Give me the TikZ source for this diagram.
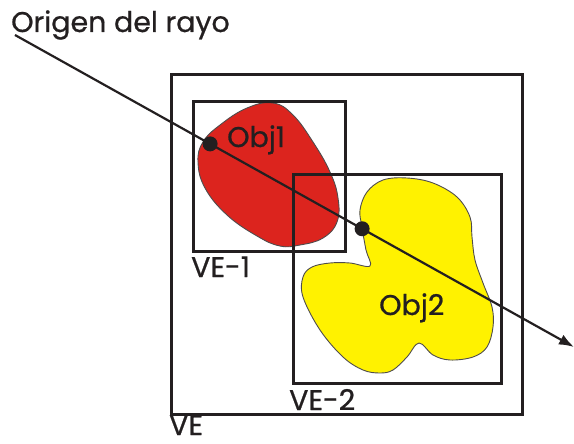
\documentclass[tikz,border=0pt]{standalone}
\usepackage{fontspec}
\setmainfont{Poppins}
\newfontfamily\lblfont{Poppins}[FakeBold=0.7]
\usetikzlibrary{calc,arrows.meta}
\definecolor{objred}{RGB}{220,36,30}
\definecolor{objyellow}{RGB}{255,242,0}
\definecolor{edge}{RGB}{35,31,32}
\tikzset{
  box/.style={draw=edge,line width=2.8pt},
  blob/.style={draw=edge!80,line width=0.9pt},
  lbl/.style={font=\lblfont\fontsize{28.5}{30}\selectfont,text=edge,inner sep=0pt},
  ray/.style={draw=edge,line width=2.2pt,-{Latex[length=15pt,width=11pt]}},
  hit/.style={circle,fill=edge,minimum size=15pt,inner sep=0pt}
}
\begin{document}
\begin{tikzpicture}[x=1pt,y=-1pt]
\useasboundingbox (0,0) rectangle (574,444);
% objects
\path[blob,fill=objred] plot[smooth cycle,tension=0.7] coordinates {
  (273,103) (293,115) (313,142) (330,172) (338,198) (337,222) (323,238)
  (300,245) (280,246) (257,236) (227,215) (205,188) (198,162) (203,142)
  (220,125) (247,108)};
\path[blob,fill=objyellow] plot[smooth cycle,tension=0.6] coordinates {
  (362,227) (360,210) (367,192) (383,180) (407,178) (433,183) (457,197)
  (470,217) (472,237) (475,260) (483,283) (492,307) (493,327) (487,347)
  (473,357) (450,360) (433,355) (419,343) (407,357) (393,370) (380,373)
  (363,370) (343,357) (320,330) (303,297) (303,277) (312,267) (330,263)
  (350,263) (370,266) (366,250)};
% boxes
\node[box,anchor=north west,minimum width=351pt,minimum height=340pt,inner sep=0pt] (ve) at (170,73) {};
\node[box,anchor=north west,minimum width=152pt,minimum height=150pt,inner sep=0pt] (ve1) at (192,100) {};
\node[box,anchor=north west,minimum width=208pt,minimum height=209pt,inner sep=0pt] (ve2) at (292,173) {};
% ray
\coordinate (rs) at (15,35);
\coordinate (re) at (574,347);
\draw[ray] (rs) -- (re);
\node[hit] (h1) at ($(rs)!0.349!(re)$) {};
\node[hit] (h2) at ($(rs)!0.621!(re)$) {};
% labels
\node[lbl,anchor=base west] (orig) at (11,32) {Origen del rayo};
\node[lbl,anchor=base west] (o1) at (227,147) {Obj1};
\node[lbl,anchor=base west] (o2) at (379,315) {Obj2};
\node[lbl,anchor=base west] (l1) at (191,277) {VE-1};
\node[lbl,anchor=base west] (l2) at (289,410) {VE-2};
\node[lbl,anchor=base west] (l0) at (169,435) {VE};
\end{tikzpicture}
\end{document}
